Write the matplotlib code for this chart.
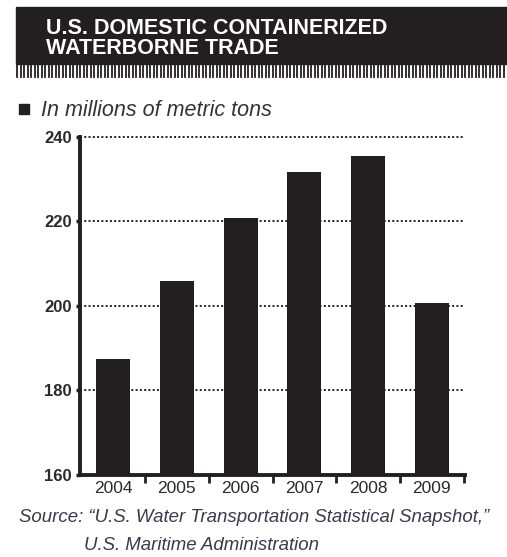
import matplotlib
matplotlib.use('Agg')
import matplotlib.pyplot as plt
from matplotlib.patches import Rectangle
import numpy as np

# Datos del gráfico
years = ['2004', '2005', '2006', '2007', '2008', '2009']
tons = [187.5, 205.8, 220.8, 231.6, 235.5, 200.7]
y_ticks = [160, 180, 200, 220, 240]

NARROW = ['Liberation Sans Narrow', 'Liberation Sans', 'DejaVu Sans']
INK = '#231f20'
W, H = 507, 557

fig = plt.figure(figsize=(W / 100, H / 100), dpi=100)
fig.patch.set_facecolor('white')


def fx(px):
    return px / W


def fy(py):
    return 1 - py / H


# Banda negra del título
fig.patches.append(Rectangle((fx(16), fy(64)), fx(W - 16), (64 - 7) / H,
                             transform=fig.transFigure, color=INK, zorder=0))
# Peine bajo el título
for px in np.arange(17, W, 3.5):
    fig.add_artist(plt.Line2D([fx(px), fx(px)], [fy(64), fy(77)],
                              transform=fig.transFigure, color=INK, lw=1.3))

fig.text(fx(46), fy(34), 'U.S. DOMESTIC CONTAINERIZED', color='white',
         fontsize=15.5, fontweight='heavy', family=NARROW, va='baseline')
fig.text(fx(46), fy(54), 'WATERBORNE TRADE', color='white',
         fontsize=15.5, fontweight='heavy', family=NARROW, va='baseline')

# Subtítulo
fig.patches.append(Rectangle((fx(19), fy(114)), fx(10), 10 / H,
                             transform=fig.transFigure, color=INK))
fig.text(fx(41), fy(110), 'In millions of metric tons', color='#333338',
         fontsize=15.5, style='italic', family=NARROW, va='center')

# Gráfico de barras
ax = fig.add_axes([fx(80), fy(475), fx(465 - 80), (475 - 137) / H])
x = np.arange(len(years))
ax.bar(x, tons, width=0.53, color=INK, zorder=3)
ax.set_xlim(-0.52, len(years) - 0.48)
ax.set_ylim(160, 240)

for v in y_ticks[1:]:
    ax.axhline(v, color=INK, lw=1.4, ls=(0, (1, 1.2)), zorder=1, clip_on=False)

ax.set_yticks(y_ticks)
ax.set_yticklabels([str(v) for v in y_ticks], fontsize=12, fontweight='bold',
                   family=NARROW, color='#2a2a2a')
ax.tick_params(axis='y', length=3, width=2.5, pad=3, color=INK)

ax.set_xticks(x)
ax.set_xticklabels(years, fontsize=12.5, family=NARROW, color='#2a2a2a')
ax.set_xticks(x + 0.5, minor=True)
ax.tick_params(axis='x', which='major', length=0, pad=4)
ax.tick_params(axis='x', which='minor', length=6, width=2, color=INK)

for side in ['top', 'right']:
    ax.spines[side].set_visible(False)
for side in ['left', 'bottom']:
    ax.spines[side].set_linewidth(2.8)
    ax.spines[side].set_color(INK)

# Fuente
fig.text(fx(19), fy(518), 'Source: \u201cU.S. Water Transportation Statistical Snapshot,\u201d',
         color='#3a3a4a', fontsize=13.4, style='italic', family=NARROW, va='center')
fig.text(fx(84), fy(545), 'U.S. Maritime Administration',
         color='#3a3a4a', fontsize=13.4, style='italic', family=NARROW, va='center')

fig.savefig('out.png', dpi=100)
